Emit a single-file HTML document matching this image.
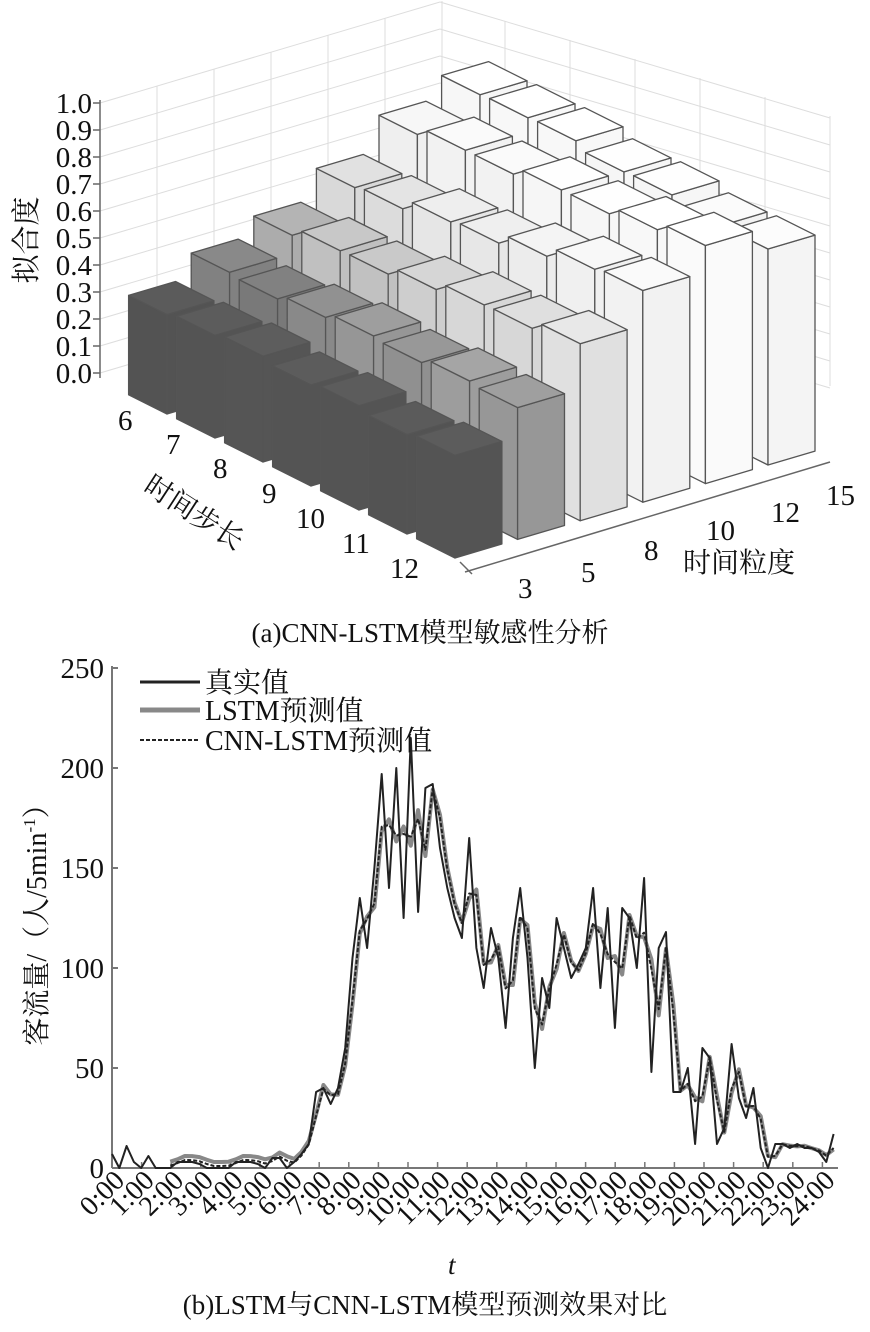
<!DOCTYPE html>
<html><head><meta charset="utf-8"><style>
body{margin:0;background:#fff}
svg{display:block}
text{font-family:"Liberation Serif","Noto Serif CJK SC","Noto Sans CJK SC",serif;fill:#111}
</style></head><body>
<svg id="s" width="870" height="1332" viewBox="0 0 870 1332" xmlns="http://www.w3.org/2000/svg">
<g id="grid3d" stroke="#ddd" stroke-width="1" fill="none"></g>
<g id="bars" stroke="#555" stroke-width="1.3" stroke-linejoin="round"></g>
<g stroke="#666" stroke-width="1.5" fill="none">
<line x1="100" y1="100" x2="100" y2="378"/>
<line x1="93" y1="103" x2="100" y2="103"/><line x1="93" y1="130" x2="100" y2="130"/><line x1="93" y1="157" x2="100" y2="157"/><line x1="93" y1="184" x2="100" y2="184"/><line x1="93" y1="211" x2="100" y2="211"/><line x1="93" y1="238" x2="100" y2="238"/><line x1="93" y1="265" x2="100" y2="265"/><line x1="93" y1="292" x2="100" y2="292"/><line x1="93" y1="319" x2="100" y2="319"/><line x1="93" y1="346" x2="100" y2="346"/><line x1="93" y1="373" x2="100" y2="373"/>
<polyline points="465,572 830,462 "/>
<line x1="460" y1="562" x2="472" y2="574"/>
</g>
<g font-size="29" text-anchor="end">
<text x="92" y="113">1.0</text><text x="92" y="140">0.9</text><text x="92" y="167">0.8</text><text x="92" y="194">0.7</text><text x="92" y="221">0.6</text><text x="92" y="248">0.5</text><text x="92" y="275">0.4</text><text x="92" y="302">0.3</text><text x="92" y="329">0.2</text><text x="92" y="356">0.1</text><text x="92" y="383">0.0</text>
</g>
<text font-size="29" transform="translate(36,240) rotate(-90)" text-anchor="middle">拟合度</text>
<g font-size="29">
<text x="118" y="430">6</text><text x="166" y="454">7</text><text x="213" y="478">8</text><text x="262" y="503">9</text><text x="296" y="528">10</text><text x="342" y="553">11</text><text x="390" y="578">12</text>
<text x="518" y="598">3</text><text x="581" y="582">5</text><text x="644" y="560">8</text><text x="706" y="540">10</text><text x="771" y="522">12</text><text x="826" y="505">15</text>
</g>
<text font-size="28" transform="translate(142,490) rotate(33)">时间步长</text>
<text font-size="28" x="683" y="572">时间粒度</text>
<text font-size="27" x="430" y="642" text-anchor="middle">(a)CNN-LSTM模型敏感性分析</text>

<g stroke="#777" stroke-width="2" fill="none">
<line x1="112" y1="666" x2="112" y2="1168"/>
<line x1="112" y1="1168" x2="838" y2="1168"/>
<line x1="112" y1="668" x2="118" y2="668"/><line x1="112" y1="768" x2="118" y2="768"/><line x1="112" y1="868" x2="118" y2="868"/><line x1="112" y1="968" x2="118" y2="968"/><line x1="112" y1="1068" x2="118" y2="1068"/>
</g>
<g id="xt" stroke="#777" stroke-width="1.5"></g>
<g font-size="29" text-anchor="end">
<text x="104" y="678">250</text><text x="104" y="778">200</text><text x="104" y="878">150</text><text x="104" y="978">100</text><text x="104" y="1078">50</text><text x="104" y="1178">0</text>
</g>
<text font-size="28" transform="translate(46,918) rotate(-90)" text-anchor="middle">客流量/（人/5min<tspan font-size="17" dy="-11">-1</tspan><tspan dy="11">）</tspan></text>
<g id="xl" font-size="28" text-anchor="end">
<text transform="translate(126,1182) rotate(-45)">0:00</text>
<text transform="translate(155.6,1182) rotate(-45)">1:00</text>
<text transform="translate(185.2,1182) rotate(-45)">2:00</text>
<text transform="translate(214.8,1182) rotate(-45)">3:00</text>
<text transform="translate(244.4,1182) rotate(-45)">4:00</text>
<text transform="translate(274,1182) rotate(-45)">5:00</text>
<text transform="translate(303.6,1182) rotate(-45)">6:00</text>
<text transform="translate(333.2,1182) rotate(-45)">7:00</text>
<text transform="translate(362.8,1182) rotate(-45)">8:00</text>
<text transform="translate(392.4,1182) rotate(-45)">9:00</text>
<text transform="translate(422,1182) rotate(-45)">10:00</text>
<text transform="translate(451.6,1182) rotate(-45)">11:00</text>
<text transform="translate(481.2,1182) rotate(-45)">12:00</text>
<text transform="translate(510.8,1182) rotate(-45)">13:00</text>
<text transform="translate(540.4,1182) rotate(-45)">14:00</text>
<text transform="translate(570,1182) rotate(-45)">15:00</text>
<text transform="translate(599.6,1182) rotate(-45)">16:00</text>
<text transform="translate(629.2,1182) rotate(-45)">17:00</text>
<text transform="translate(658.8,1182) rotate(-45)">18:00</text>
<text transform="translate(688.4,1182) rotate(-45)">19:00</text>
<text transform="translate(718,1182) rotate(-45)">20:00</text>
<text transform="translate(747.6,1182) rotate(-45)">21:00</text>
<text transform="translate(777.2,1182) rotate(-45)">22:00</text>
<text transform="translate(806.8,1182) rotate(-45)">23:00</text>
<text transform="translate(836.4,1182) rotate(-45)">24:00</text>
</g>
<text font-size="27" font-style="italic" x="448" y="1274">t</text>
<text font-size="27" x="425" y="1314" text-anchor="middle">(b)LSTM与CNN-LSTM模型预测效果对比</text>
<path id="lstm" fill="none" stroke="#888" stroke-width="4" stroke-linejoin="round"/>
<path id="real" fill="none" stroke="#222" stroke-width="2" stroke-linejoin="round"/>
<path id="cnn" fill="none" stroke="#222" stroke-width="2" stroke-dasharray="4,2" stroke-linejoin="round"/>
<g>
<line x1="140" y1="682" x2="200" y2="682" stroke="#222" stroke-width="3"/>
<line x1="140" y1="710" x2="200" y2="710" stroke="#888" stroke-width="5"/>
<line x1="140" y1="740" x2="200" y2="740" stroke="#222" stroke-width="2" stroke-dasharray="4,2"/>
<text x="205" y="692" font-size="28">真实值</text>
<text x="205" y="720" font-size="28">LSTM预测值</text>
<text x="205" y="750" font-size="28">CNN-LSTM预测值</text>
</g>
</svg>
<script>
(function(){
var NS="http://www.w3.org/2000/svg";
function el(p,t,a){var e=document.createElementNS(NS,t);for(var k in a)e.setAttribute(k,a[k]);p.appendChild(e);return e;}
function P(u,v,h){return [455+(u-6.4)*48+(v+0.375)*62.6, 558+(u-6.4)*24-(v+0.375)*18.6-(h||0)*270];}
function s(p){return p[0].toFixed(1)+","+p[1].toFixed(1);}
var g=document.getElementById("grid3d");
for(var k=0;k<=10;k++){var y=373-k*27;el(g,"line",{x1:100,y1:y,x2:440,y2:y-101});}
for(var m=1;m<=6;m++){el(g,"line",{x1:100+m*57,y1:373-m*17,x2:100+m*57,y2:103-m*17});}
for(var k=0;k<=10;k++){var y=373-k*27;el(g,"line",{x1:440,y1:y-101,x2:830,y2:y+15});}
for(var m=1;m<=6;m++){el(g,"line",{x1:440+m*65,y1:272+m*19,x2:440+m*65,y2:2+m*19});}
var h6=[0.38,0.45,0.53,0.62,0.76,0.85],h12=[0.38,0.5,0.65,0.79,0.87,0.8];
var bars=[];
for(var i=0;i<7;i++)for(var j=0;j<6;j++){var h=h6[j]+(h12[j]-h6[j])*i/6+((i*7+j*3)%5-2)*0.006;bars.push([i,j,h]);}
bars.sort(function(a,b){return (a[0]*24-a[1]*18.6)-(b[0]*24-b[1]*18.6);});
function col(h){var pts=[[0.3,80],[0.4,85],[0.47,140],[0.57,200],[0.67,228],[0.82,246],[0.92,253]];
 for(var q=1;q<pts.length;q++){if(h<=pts[q][0]){var t=(h-pts[q-1][0])/(pts[q][0]-pts[q-1][0]);t=Math.max(0,t);return Math.round(pts[q-1][1]+t*(pts[q][1]-pts[q-1][1]));}}return 253;}
var gb=document.getElementById("bars");
bars.forEach(function(b){var i=b[0],j=b[1],h=b[2],a=0.4,c=0.375;
 var N=P(i+a,j-c),L=P(i-a,j-c),R=P(i+a,j+c);
 var Nt=P(i+a,j-c,h),Lt=P(i-a,j-c,h),Rt=P(i+a,j+c,h),Bt=P(i-a,j+c,h);
 var v=col(h),f="rgb("+v+","+v+","+v+")",vt=Math.min(255,v+8),ft="rgb("+vt+","+vt+","+vt+")";
 el(gb,"polygon",{points:[s(L),s(N),s(Nt),s(Lt)].join(" "),fill:f});
 el(gb,"polygon",{points:[s(N),s(R),s(Rt),s(Nt)].join(" "),fill:f});
 el(gb,"polygon",{points:[s(Lt),s(Nt),s(Rt),s(Bt)].join(" "),fill:ft});
});
var xt=document.getElementById("xt");
for(var k=1;k<=24;k++){var x=112+k*29.6;el(xt,"line",{x1:x,y1:1168,x2:x,y2:1162});}
var r=[7,0,11,3,0,6,0,0,0,3,3,3,2,0,0,0,0,3,3,3,2,0,5,5,0,3,7,12,38,40,32,40,60,105,135,110,150,197,140,200,125,215,128,190,192,160,140,125,115,165,110,90,120,105,70,115,140,105,50,95,80,125,110,95,102,110,140,90,130,70,130,125,100,145,48,110,118,38,38,50,12,60,55,12,20,62,35,25,40,10,0,12,12,10,12,10,10,8,3,17];
function X(k){return 112+k*0.25*29.6*0.985;}
function Y(v){return 1168-v*2;}
function path(arr,st){var d="";for(var k=st;k<arr.length;k++){d+=(k==st?"M":"L")+X(k).toFixed(1)+","+Y(arr[k]).toFixed(1);}return d;}
var l=[],c=[];
for(var k=0;k<r.length;k++){var p=k>0?r[k-1]:r[k];var n=k<r.length-1?r[k+1]:r[k];
 l.push(k<8?0:Math.max(0,0.55*p+0.4*r[k]+0.05*n+(k<30?3:0)));
 c.push(k<8?0:Math.max(0,0.5*p+0.45*r[k]+0.05*n+(k<30?1:0)));}
document.getElementById("real").setAttribute("d",path(r,0));
document.getElementById("lstm").setAttribute("d",path(l,8));
document.getElementById("cnn").setAttribute("d",path(c,8));
})();
</script>
</body></html>
